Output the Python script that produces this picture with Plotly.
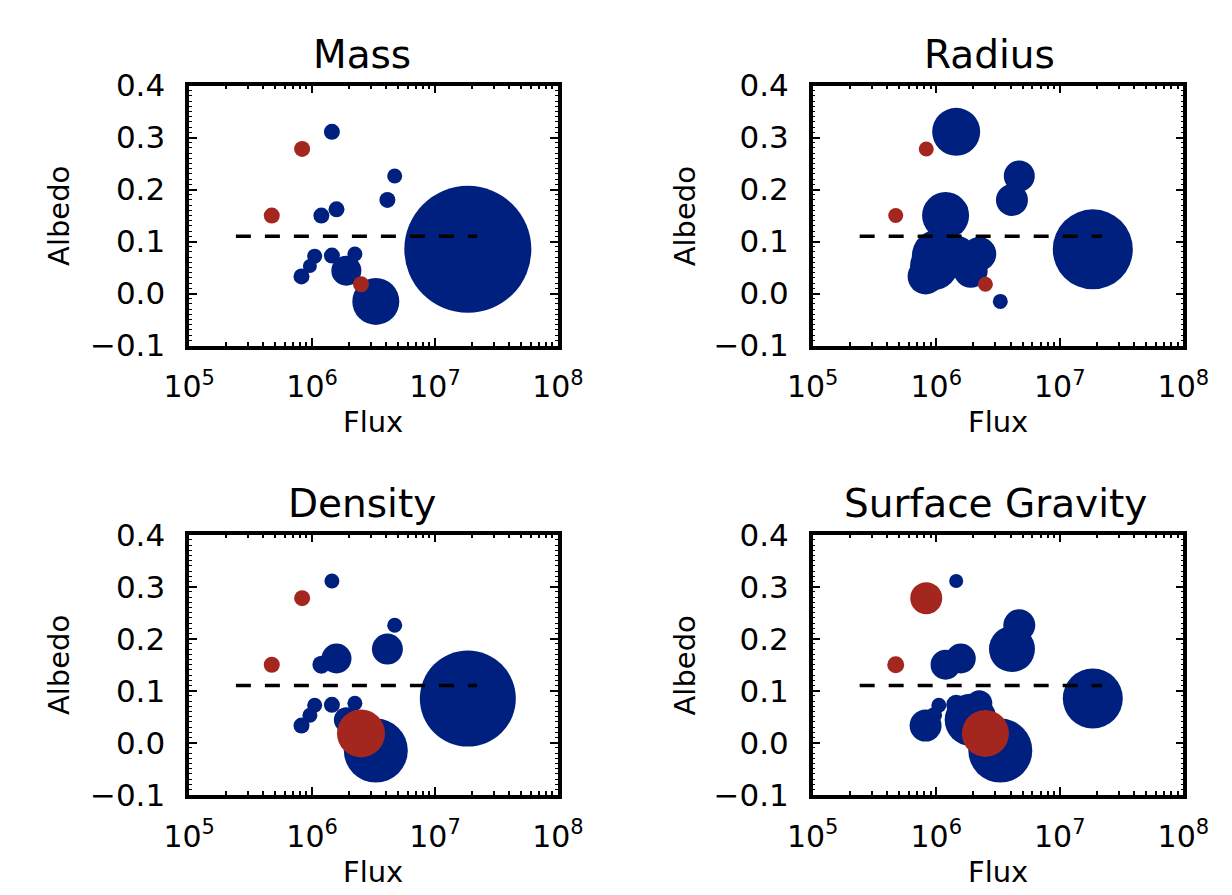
import plotly.graph_objects as go

# ---------------- data ----------------
panel_titles = ["Mass", "Radius", "Density", "Surface Gravity"]

# red planets
red_flux = [8.3e5, 4.7e5, 2.5e6]
red_albedo = [0.278, 0.150, 0.018]

# blue planets
blue_flux = [1.45e6, 4.7e6, 4.1e6, 1.19e6, 1.58e6, 1.85e7, 8.2e5,
             9.6e5, 1.05e6, 1.45e6, 2.23e6, 1.90e6, 3.3e6]
blue_albedo = [0.311, 0.226, 0.180, 0.150, 0.162, 0.085, 0.033,
               0.053, 0.072, 0.073, 0.076, 0.044, -0.015]

# bubble diameters (encode each property)
red_mass = [16, 16, 16]
blue_mass = [16, 15, 16, 16, 16, 127, 16, 14, 15, 16, 15, 30, 47]
red_radius = [15, 15, 15]
blue_radius = [48, 31, 32, 47, 14, 80, 36, 48, 54, 40, 34, 34, 15]
red_density = [16, 16, 48]
blue_density = [15, 15, 31, 18, 30, 96, 16, 15, 15, 16, 15, 25, 64]
red_gravity = [32, 17, 47]
blue_gravity = [14, 32, 46, 30, 30, 60, 32, 16, 15, 20, 26, 52, 64]

red_sizes = [red_mass, red_radius, red_density, red_gravity]
blue_sizes = [blue_mass, blue_radius, blue_density, blue_gravity]

# reference dashed line
line_flux = [2.4e5, 2.2e7]
line_albedo = 0.11

x_tickvals = [1e5, 1e6, 1e7, 1e8]
x_ticktext = ["10<sup>5</sup>", "10<sup>6</sup>", "10<sup>7</sup>", "10<sup>8</sup>"]
y_tickvals = [-0.1, 0.0, 0.1, 0.2, 0.3, 0.4]
y_ticktext = ["\u22120.1", "0.0", "0.1", "0.2", "0.3", "0.4"]

# ---------------- layout geometry ----------------
W, H = 1232, 895
FONT = "DejaVu Sans, Liberation Sans, sans-serif"
BLUE = "#00207F"
RED = "#A3271F"

def px_x(p):
    return p / W

def px_y(p):
    return 1 - p / H

x_doms = [[px_x(162), px_x(547)], [px_x(813), px_x(1200)],
          [px_x(162), px_x(547)], [px_x(813), px_x(1200)]]
y_doms = [[px_y(333), px_y(62)], [px_y(333), px_y(62)],
          [px_y(801), px_y(530)], [px_y(801), px_y(530)]]

title_pos = [(342, 30), (998, 30), (342, 498), (1004, 498)]
ytitle_pos = [(26, 198), (680, 198), (26, 666), (680, 666)]
xtitle_pos = [(354, 413), (1006, 413), (354, 881), (1006, 881)]

minor_x = [m * 10 ** e for e in range(5, 8) for m in range(2, 10)]

fig = go.Figure()
annotations = []
layout_axes = {}

for i in range(4):
    xa = "x" if i == 0 else f"x{i+1}"
    ya = "y" if i == 0 else f"y{i+1}"
    fig.add_trace(go.Scatter(
        x=blue_flux, y=blue_albedo, mode="markers", xaxis=xa, yaxis=ya,
        marker=dict(color=BLUE, size=blue_sizes[i], line=dict(width=0), opacity=1),
        showlegend=False, hoverinfo="skip", cliponaxis=True))
    fig.add_trace(go.Scatter(
        x=red_flux, y=red_albedo, mode="markers", xaxis=xa, yaxis=ya,
        marker=dict(color=RED, size=red_sizes[i], line=dict(width=0), opacity=1),
        showlegend=False, hoverinfo="skip", cliponaxis=True))
    fig.add_trace(go.Scatter(
        x=line_flux, y=[line_albedo, line_albedo], mode="lines", xaxis=xa, yaxis=ya,
        line=dict(color="black", width=3.5, dash="15px,14px"),
        showlegend=False, hoverinfo="skip"))

    xkey = "xaxis" if i == 0 else f"xaxis{i+1}"
    ykey = "yaxis" if i == 0 else f"yaxis{i+1}"
    layout_axes[xkey] = dict(
        domain=x_doms[i], anchor=ya, type="log", range=[5, 8],
        showline=True, linecolor="black", linewidth=3.5, mirror="ticks",
        ticks="inside", ticklen=8, tickwidth=2, tickcolor="black",
        tickvals=x_tickvals, ticktext=x_ticktext,
        tickfont=dict(family=FONT, size=30, color="black"),
        ticklabelstandoff=12,
        showgrid=False, zeroline=False,
        minor=dict(tickvals=minor_x, ticks="inside", ticklen=4, tickwidth=1.5,
                   tickcolor="black", showgrid=False),
    )
    layout_axes[ykey] = dict(
        domain=y_doms[i], anchor=xa, range=[-0.1, 0.4],
        showline=True, linecolor="black", linewidth=3.5, mirror="ticks",
        ticks="inside", ticklen=8, tickwidth=2, tickcolor="black",
        tickvals=y_tickvals, ticktext=y_ticktext,
        tickfont=dict(family=FONT, size=31, color="black"),
        ticklabelstandoff=14,
        showgrid=False, zeroline=False,
        minor=dict(dtick=0.01, tick0=0, ticks="inside", ticklen=3, tickwidth=1,
                   tickcolor="black", showgrid=False),
    )

    tx, ty = title_pos[i]
    annotations.append(dict(text=panel_titles[i], x=px_x(tx), y=px_y(ty),
                            xref="paper", yref="paper", showarrow=False,
                            xanchor="center", yanchor="middle",
                            font=dict(family=FONT, size=39, color="black")))
    ax_, ay_ = ytitle_pos[i]
    annotations.append(dict(text="Albedo", x=px_x(ax_), y=px_y(ay_),
                            xref="paper", yref="paper", showarrow=False,
                            xanchor="center", yanchor="middle", textangle=-90,
                            font=dict(family=FONT, size=29, color="black")))
    fx, fy = xtitle_pos[i]
    annotations.append(dict(text="Flux", x=px_x(fx), y=px_y(fy),
                            xref="paper", yref="paper", showarrow=False,
                            xanchor="center", yanchor="middle",
                            font=dict(family=FONT, size=29, color="black")))

fig.update_layout(
    width=W, height=H,
    margin=dict(l=0, r=0, t=0, b=0),
    paper_bgcolor="white", plot_bgcolor="white",
    annotations=annotations,
    **layout_axes,
)

fig.write_html("out.html")
